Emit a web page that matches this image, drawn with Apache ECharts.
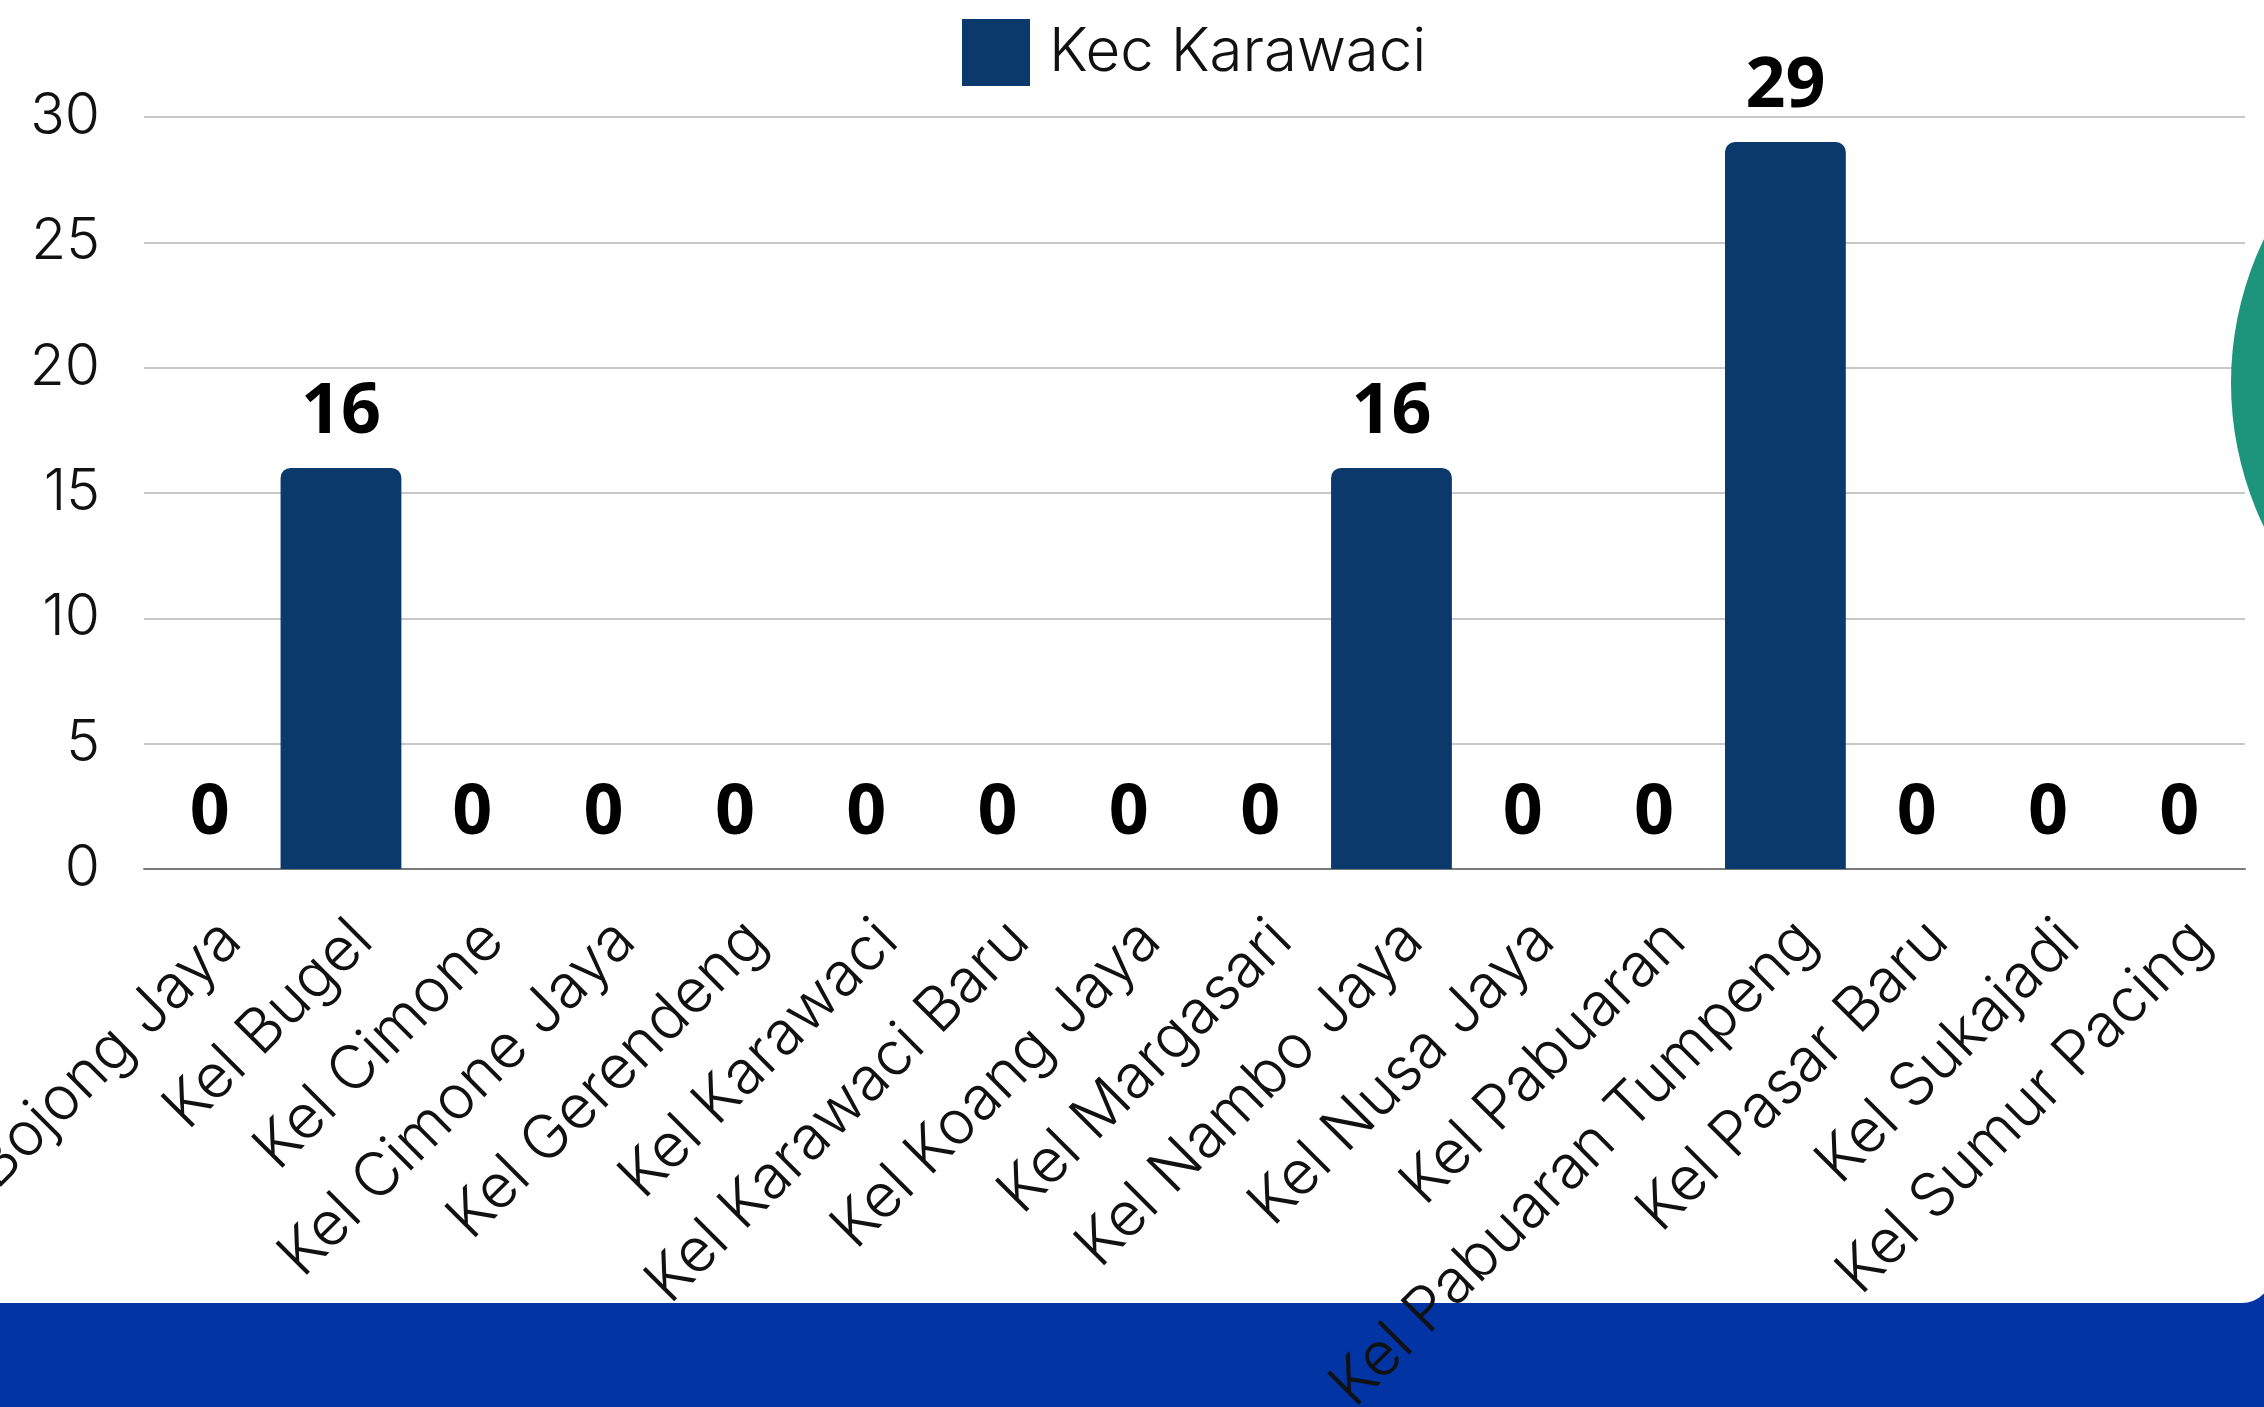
<!DOCTYPE html>
<html>
<head>
<meta charset="utf-8">
<script src="https://cdn.jsdelivr.net/npm/echarts@6/dist/echarts.min.js"></script>
<style>
  html, body { margin: 0; padding: 0; background: #fff; }
  #chart { width: 2264px; height: 1407px; }
</style>
</head>
<body>
<div id="chart"></div>
<script>
const seriesName = 'Kec Karawaci'
const categories = ['Kel Bojong Jaya', 'Kel Bugel', 'Kel Cimone', 'Kel Cimone Jaya', 'Kel Gerendeng',
    'Kel Karawaci', 'Kel Karawaci Baru', 'Kel Koang Jaya', 'Kel Margasari', 'Kel Nambo Jaya',
    'Kel Nusa Jaya', 'Kel Pabuaran', 'Kel Pabuaran Tumpeng', 'Kel Pasar Baru', 'Kel Sukajadi',
    'Kel Sumur Pacing']
const values = [0, 16, 0, 0, 0, 0, 0, 0, 0, 16, 0, 0, 29, 0, 0, 0]
const yMin = 0
const yMax = 30
const yStep = 5

const chart = echarts.init(document.getElementById('chart'))

let option = {
    animation: false,
    // page decoration: white card, blue band below, green circle on the right
    graphic: [
        { type: 'rect', z: -20, shape: { x: 0, y: 1270, width: 2264, height: 137 }, style: { fill: '#0234a3' } },
        { type: 'rect', z: -10, shape: { x: -40, y: -40, width: 2312, height: 1343, r: [0, 0, 30, 0] }, style: { fill: '#ffffff' } },
        { type: 'circle', z: 50, shape: { cx: 2562, cy: 383, r: 331 }, style: { fill: '#1d957d' } }
    ],
    legend: {
        data: [seriesName],
        left: 957,
        top: 14,
        itemWidth: 68,
        itemHeight: 67,
        icon: 'rect',
        textStyle: {
            color: '#111',
            fontFamily: 'Inter',
            fontWeight: 300,
            fontSize: 60,
            padding: [0, 0, 0, 14]
        }
    },
    grid: {
        left: 144,
        right: 19,
        top: 117,
        bottom: 538,
        containLabel: false,
        outerBoundsMode: 'none'
    },
    xAxis: {
        type: 'category',
        data: categories,
        axisTick: { show: false },
        axisLine: { lineStyle: { color: '#7a7a7a', width: 2 } },
        axisLabel: {
            interval: 0,
            rotate: 45,
            align: 'right',
            verticalAlign: 'top',
            margin: 40,
            color: '#111',
            fontFamily: 'Inter',
            fontWeight: 300,
            fontSize: 61
        }
    },
    yAxis: {
        type: 'value',
        min: yMin,
        max: yMax,
        interval: yStep,
        axisLine: { show: false },
        axisTick: { show: false },
        splitLine: { lineStyle: { color: '#c8c8c8', width: 2 } },
        axisLabel: {
            margin: 44,
            color: '#111',
            fontFamily: 'Inter',
            fontWeight: 300,
            fontSize: 57
        }
    },
    series: [
        {
            name: seriesName,
            type: 'bar',
            data: values,
            barCategoryGap: '8%',
            itemStyle: {
                color: '#0c396b',
                borderRadius: [10, 10, 0, 0] //rounded top
            },
            label: {
                show: true,
                position: 'top',
                distance: 20,
                color: '#000',
                fontFamily: 'Open Sans',
                fontWeight: 'bold',
                fontSize: 70
            }
        }
    ]
}

chart.setOption(option)
</script>
</body>
</html>
